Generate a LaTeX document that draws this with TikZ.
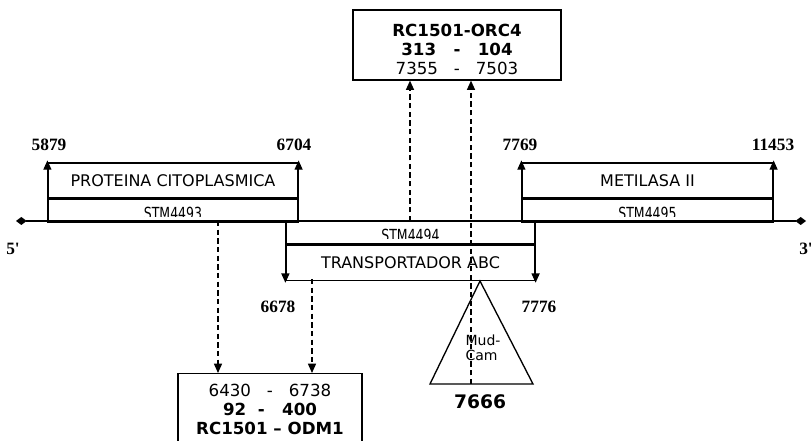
\documentclass[tikz,border=0pt]{standalone}
\usepackage{fontspec}
\setmainfont{DejaVu Sans}
\newfontfamily\numfont{Liberation Serif}
\usetikzlibrary{arrows.meta}

\tikzset{
  cellbox/.style={draw, line width=0.9pt, inner sep=0pt},
  genname/.style={cellbox, minimum height=26.25pt, font=\fontsize{12}{14}\selectfont},
  stmcell/.style={cellbox, minimum height=17.25pt},
  stmtext/.style={anchor=base, inner sep=0pt, font=\fontsize{12.5}{14}\selectfont},
  poslabel/.style={font=\numfont\bfseries\fontsize{13}{15}\selectfont},
  endarrow/.style={line width=1pt, -{Triangle[length=7pt,width=6pt]}},
  link/.style={line width=1.1pt, dash pattern=on 4pt off 2.5pt, -{Triangle[length=7pt,width=6pt]}},
}

\begin{document}
\begin{tikzpicture}[x=0.75pt,y=-0.75pt]
  \useasboundingbox (0,0) rectangle (811,441);

  % gene STM4493
  \node[genname, minimum width=187.5pt] (prot) at (173,180.5) {PROTEINA CITOPLASMICA};
  \node[stmcell, minimum width=187.5pt, anchor=north] (stm3) at (prot.south) {};
  \begin{scope}
    \clip (stm3.north west) rectangle ([yshift=4.5pt]stm3.south east);
    \node[stmtext] (stm3t) at ([yshift=2.5pt]stm3.south) {\scalebox{0.75}[1]{STM4493}};
  \end{scope}

  % gene STM4495
  \node[genname, minimum width=188.25pt] (metil) at (647.5,180.5) {METILASA II};
  \node[stmcell, minimum width=188.25pt, anchor=north] (stm5) at (metil.south) {};
  \begin{scope}
    \clip (stm5.north west) rectangle ([yshift=4.5pt]stm5.south east);
    \node[stmtext] (stm5t) at ([yshift=2.5pt]stm5.south) {\scalebox{0.75}[1]{STM4495}};
  \end{scope}

  % gene STM4494 (complementary strand)
  \node[stmcell, minimum width=186.75pt] (stm4) at (410.5,232.5) {};
  \node[genname, minimum width=186.75pt, anchor=north] (transp) at (stm4.south) {TRANSPORTADOR ABC};
  \begin{scope}
    \clip (stm4.north west) rectangle ([yshift=4.5pt]stm4.south east);
    \node[stmtext] (stm4t) at ([yshift=2pt]stm4.south) {\scalebox{0.75}[1]{STM4494}};
  \end{scope}

  % DNA strand
  \coordinate (end5) at (16,221);
  \coordinate (end3) at (806,221);
  \draw[line width=1pt, {Diamond[length=8pt,width=6pt]}-{Diamond[length=8pt,width=6pt]}] (end5) -- (end3);
  \node[poslabel] (five) at (13,249) {5'};
  \node[poslabel] (three) at (806,249) {3'};

  % start and end of each gene
  \draw[endarrow] (stm3.south west) -- ([yshift=1.5pt]prot.north west);
  \draw[endarrow] (stm3.south east) -- ([yshift=1.5pt]prot.north east);
  \draw[endarrow] (stm5.south west) -- ([yshift=1.5pt]metil.north west);
  \draw[endarrow] (stm5.south east) -- ([yshift=1.5pt]metil.north east);
  \draw[endarrow] (stm4.north west) -- ([yshift=-1.5pt]transp.south west);
  \draw[endarrow] (stm4.north east) -- ([yshift=-1.5pt]transp.south east);

  \node[poslabel] (p5879) at (49,145) {5879};
  \node[poslabel] (p6704) at (294,145) {6704};
  \node[poslabel] (p7769) at (520,145) {7769};
  \node[poslabel] (p11453) at (773,145) {11453};
  \node[poslabel] (p6678) at (278,307) {6678};
  \node[poslabel] (p7776) at (539,307) {7776};

  % primers
  \node[cellbox, minimum width=156pt, minimum height=52.5pt] (orc) at (457,45) {};
  \node[align=center, inner sep=0pt, font=\fontsize{12.5}{14.25}\selectfont] (orct) at (457,49)
    {\textbf{RC1501-ORC4}\\\textbf{313 \ \ - \ \ 104}\\7355 \ \ - \ \ 7503};
  \node[cellbox, minimum width=138pt, minimum height=60pt, anchor=north] (odm) at (270,373) {};
  \node[align=center, inner sep=0pt, font=\fontsize{12.5}{14.25}\selectfont] (odmt) at (270,409)
    {6430 \ \ - \ \ 6738\\\textbf{92 \ - \ \ 400}\\\textbf{RC1501 -- ODM1}};

  % Mud-Cam insertion
  \coordinate (apex) at (480,281);
  \coordinate (bl) at (430,384);
  \coordinate (br) at (533,384);
  \draw[line width=1pt] (apex) -- (bl) -- (br) -- cycle;
  \node[align=left, inner sep=0pt, font=\fontsize{10.5}{11.5}\selectfont] (mud) at (483,348) {Mud-\\Cam};
  \node[font=\bfseries\fontsize{14}{16}\selectfont] (p7666) at (480,402) {7666};

  % dashed links to the primers
  \coordinate (l1) at (410,221);
  \coordinate (l2) at (471,384);
  \coordinate (l3) at (218,221);
  \coordinate (l4) at (312,279);
  \draw[link] (l1) -- (l1 |- orc.south);
  \draw[link] (l2) -- (l2 |- orc.south);
  \draw[link] (l3) -- (l3 |- odm.north);
  \draw[link] (l4) -- (l4 |- odm.north);
\end{tikzpicture}
\end{document}
